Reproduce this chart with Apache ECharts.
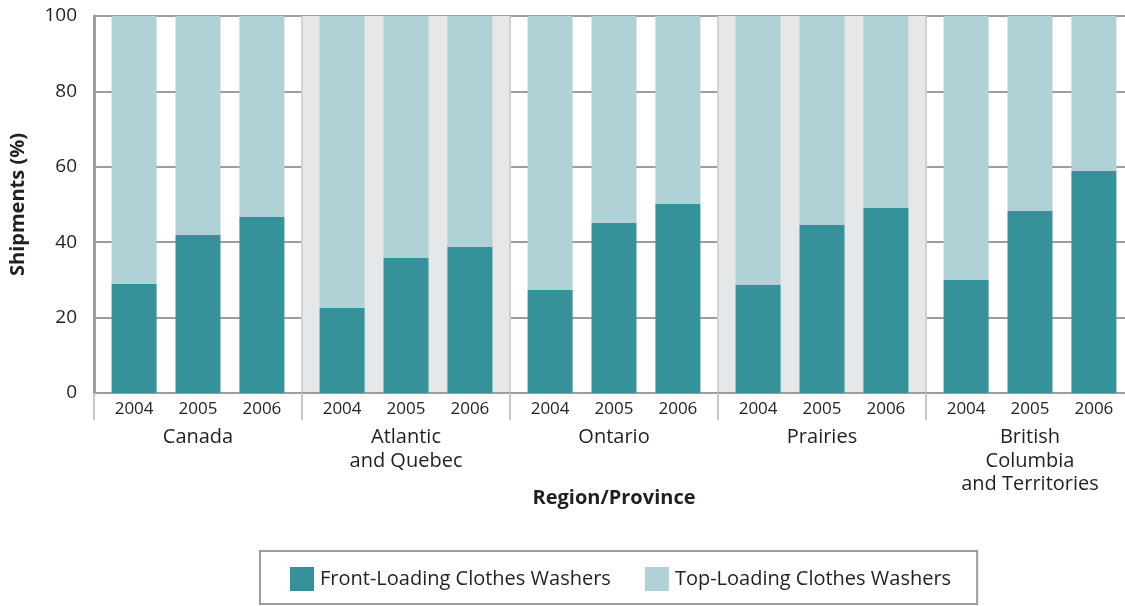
<!DOCTYPE html>
<html>
<head>
<meta charset="utf-8">
<title>Clothes washer shipments by region</title>
<script src="https://cdn.jsdelivr.net/npm/echarts@6/dist/echarts.min.js"></script>
<style>
  html, body { margin: 0; padding: 0; background: #ffffff; overflow: hidden; }
  #chart { width: 1125px; height: 606px; }
</style>
</head>
<body>
<div id="chart"></div>
<script>
// Regions along the x axis and the model years within each region
const regions = ['Canada', 'Atlantic\nand Quebec', 'Ontario', 'Prairies', 'British\nColumbia\nand Territories'];
const years = ['2004', '2005', '2006'];

// Share of shipments (%) by region, one array per year
const front2004 = [29.0, 22.6, 27.4, 28.7, 30.0];
const front2005 = [41.9, 35.8, 45.1, 44.6, 48.3];
const front2006 = [46.7, 38.8, 50.1, 49.1, 58.9];
const top2004 = [71.0, 77.4, 72.6, 71.3, 70.0];
const top2005 = [58.1, 64.2, 54.9, 55.4, 51.7];
const top2006 = [53.3, 61.2, 49.9, 50.9, 41.1];

const yTicks = { min: 0, max: 100, interval: 20 };

const FRONT = 'Front-Loading Clothes Washers';
const TOP = 'Top-Loading Clothes Washers';
const frontByYear = [front2004, front2005, front2006];
const topByYear = [top2004, top2005, top2006];

const FONT = '"Open Sans", "Noto Sans", sans-serif';
const TEXT = '#231f20';
const FRONT_COLOR = '#36929a';
const TOP_COLOR = '#b0d1d5';

// One stack per year: front-loading at the bottom, top-loading above it
const series = [];
years.forEach((year, i) => {
  series.push({
    name: FRONT,
    type: 'bar',
    stack: 'y' + year,
    barWidth: 45,
    barGap: '42%',
    itemStyle: { color: FRONT_COLOR },
    label: {
      show: true,
      position: 'bottom',
      distance: 8,
      formatter: () => year,
      color: TEXT,
      fontFamily: FONT,
      fontSize: 17
    },
    emphasis: { disabled: true },
    data: frontByYear[i]
  });
  series.push({
    name: TOP,
    type: 'bar',
    stack: 'y' + year,
    barWidth: 45,
    barGap: '42%',
    itemStyle: { color: TOP_COLOR },
    emphasis: { disabled: true },
    data: topByYear[i]
  });
});

const chart = echarts.init(document.getElementById('chart'), null, { renderer: 'canvas' });
chart.setOption({
  animation: false,
  textStyle: { fontFamily: FONT, color: TEXT },
  // the last region runs a little past the right edge of the canvas
  grid: { left: 94, top: 16, width: 1040, height: 377, containLabel: false, outerBoundsMode: 'none' },
  legend: {
    data: [FRONT, TOP],
    left: 260,
    top: 551,
    orient: 'horizontal',
    icon: 'rect',
    itemWidth: 24,
    itemHeight: 24,
    itemGap: 34,
    padding: [16, 26, 13, 30],
    borderColor: '#9d9d9d',
    borderWidth: 2,
    selectedMode: false,
    textStyle: { fontFamily: FONT, fontSize: 20, color: TEXT, padding: [0, 0, 0, 1] }
  },
  xAxis: {
    type: 'category',
    data: regions,
    boundaryGap: true,
    name: 'Region/Province',
    nameLocation: 'middle',
    nameGap: 95,
    nameMoveOverlap: false,
    nameTextStyle: { fontFamily: FONT, fontSize: 20, fontWeight: 'bold', color: TEXT },
    axisLine: { show: true, lineStyle: { color: '#9d9d9d', width: 2 } },
    axisTick: { show: true, length: 27, lineStyle: { color: '#c8c8c8', width: 2 } },
    axisLabel: {
      interval: 0,
      margin: 33,
      fontFamily: FONT,
      fontSize: 20,
      lineHeight: 23.5,
      color: TEXT,
      verticalAlign: 'top'
    },
    splitLine: { show: true, lineStyle: { color: '#d2d2d2', width: 2 } },
    splitArea: { show: true, areaStyle: { color: ['rgba(255,255,255,0)', '#e6e7e8'] } }
  },
  yAxis: {
    type: 'value',
    min: yTicks.min,
    max: yTicks.max,
    interval: yTicks.interval,
    name: 'Shipments (%)',
    nameLocation: 'middle',
    nameGap: 66,
    nameTextStyle: { fontFamily: FONT, fontSize: 20, fontWeight: 'bold', color: TEXT },
    axisLine: { show: true, lineStyle: { color: '#9d9d9d', width: 3 } },
    axisTick: { show: false },
    axisLabel: { margin: 17, fontFamily: FONT, fontSize: 19, color: TEXT },
    splitLine: { show: true, lineStyle: { color: '#9d9d9d', width: 2 } }
  },
  series: series
});
</script>
</body>
</html>
